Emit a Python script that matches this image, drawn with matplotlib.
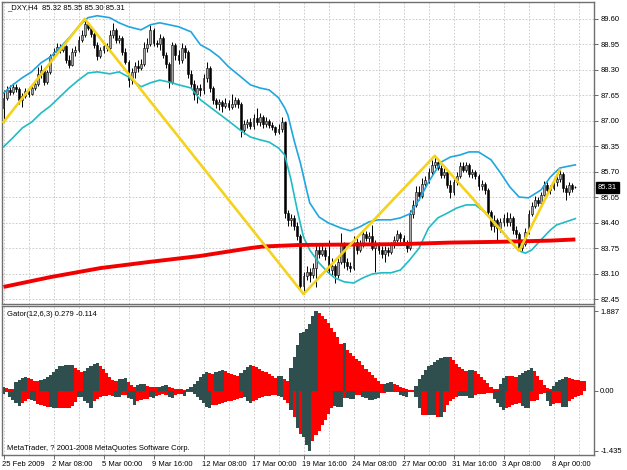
import numpy as np
import matplotlib
matplotlib.use("Agg")
import matplotlib.pyplot as plt
import matplotlib.transforms as mtransforms

plt.rcParams['font.family'] = ['Liberation Sans', 'DejaVu Sans']
plt.rcParams['font.size'] = 5.5

# _DXY H4 candles, bar 0 = 25 Feb 2009 16:00
opens = [
    87.33, 87.59, 87.79, 87.74, 87.87, 87.82, 87.54, 87.64, 87.76, 87.69,
    87.84, 87.94, 88.20, 88.30, 87.99, 88.25, 88.66, 88.76, 88.89, 88.81,
    88.91, 88.55, 88.43, 88.76, 88.81, 89.06, 89.19, 89.47, 89.37, 89.22,
    88.94, 88.66, 88.81, 88.91, 88.86, 89.19, 89.32, 89.06, 89.12, 88.76,
    88.50, 88.04, 88.25, 88.40, 88.35, 88.45, 88.86, 88.96, 89.32, 88.99,
    88.96, 89.12, 88.68, 88.45, 87.99, 88.94, 88.68, 88.55, 88.86, 88.76,
    88.20, 87.94, 87.69, 87.84, 87.79, 88.10, 88.35, 87.84, 87.54, 87.43,
    87.48, 87.38, 87.46, 87.36, 87.43, 87.54, 87.43, 86.77, 86.92, 86.97,
    86.87, 87.08, 86.97, 87.10, 86.92, 87.00, 86.90, 86.85, 86.72, 86.80,
    86.97, 84.65, 84.48, 84.53, 84.32, 84.07, 82.79, 83.05, 83.15, 83.07,
    83.25, 83.71, 83.61, 83.71, 83.56, 83.20, 83.30, 83.07, 83.41, 83.86,
    83.41, 83.30, 83.25, 83.92, 83.71, 83.84, 84.12, 84.02, 84.07, 83.76,
    83.86, 83.71, 83.61, 83.71, 83.66, 83.84, 83.97, 84.12, 84.02, 83.92,
    83.76, 84.63, 84.86, 85.19, 85.09, 85.39, 85.50, 85.70, 85.88, 85.95,
    85.80, 85.62, 85.70, 85.37, 85.19, 85.44, 85.60, 85.85, 85.75, 85.88,
    85.65, 85.70, 85.60, 85.34, 85.39, 85.24, 84.68, 84.32, 84.48, 84.27,
    84.43, 84.53, 84.43, 84.53, 84.22, 84.12, 83.76, 83.86, 84.17, 84.63,
    84.83, 84.99, 84.91, 85.11, 85.37, 85.24, 85.29, 85.44, 85.52, 85.65,
    85.29, 85.19, 85.37, 85.32,
]
highs = [
    87.79, 87.89, 87.92, 87.97, 87.94, 87.87, 87.71, 87.84, 87.84, 87.92,
    88.02, 88.38, 88.43, 88.35, 88.30, 88.71, 88.86, 88.99, 88.96, 88.96,
    88.94, 88.68, 88.86, 88.91, 89.17, 89.32, 89.60, 89.52, 89.40, 89.27,
    89.01, 88.89, 88.96, 88.99, 89.32, 89.50, 89.37, 89.19, 89.17, 88.86,
    88.55, 88.35, 88.50, 88.55, 88.58, 89.01, 89.12, 89.45, 89.37, 89.06,
    89.22, 89.17, 88.76, 88.50, 89.01, 88.99, 88.81, 88.99, 88.94, 88.81,
    88.30, 88.04, 87.92, 87.94, 88.20, 88.50, 88.40, 87.89, 87.59, 87.56,
    87.54, 87.59, 87.54, 87.69, 87.61, 87.59, 87.48, 87.03, 87.05, 87.08,
    87.18, 87.33, 87.20, 87.15, 87.10, 87.05, 86.97, 86.87, 86.92, 87.10,
    87.00, 84.73, 84.63, 84.60, 84.43, 84.12, 83.15, 83.30, 83.25, 83.38,
    83.84, 83.81, 83.84, 83.79, 83.97, 83.51, 83.35, 83.51, 84.15, 83.92,
    83.51, 83.41, 84.07, 84.02, 83.97, 84.22, 84.20, 84.17, 84.35, 83.97,
    83.92, 83.81, 83.81, 83.79, 83.92, 84.07, 84.22, 84.17, 84.09, 83.97,
    84.73, 84.99, 85.34, 85.34, 85.55, 85.60, 85.80, 86.01, 86.11, 86.01,
    85.88, 85.80, 85.75, 85.50, 85.55, 85.70, 85.95, 85.95, 85.95, 85.93,
    85.78, 85.75, 85.65, 85.50, 85.44, 85.29, 84.73, 84.60, 84.53, 84.53,
    84.63, 84.68, 84.65, 84.58, 84.32, 84.17, 83.97, 84.27, 84.73, 84.93,
    85.09, 85.06, 85.19, 85.47, 85.44, 85.37, 85.55, 85.62, 85.75, 85.70,
    85.37, 85.44, 85.42, 85.35,
]
lows = [
    86.97, 87.54, 87.66, 87.69, 87.74, 87.43, 87.36, 87.59, 87.61, 87.66,
    87.79, 87.89, 88.10, 87.92, 87.94, 88.20, 88.61, 88.71, 88.73, 88.76,
    88.48, 88.35, 88.40, 88.66, 88.76, 89.01, 89.14, 89.32, 89.14, 88.86,
    88.55, 88.61, 88.73, 88.78, 88.81, 89.12, 88.99, 88.99, 88.68, 88.45,
    87.87, 87.94, 88.10, 88.25, 88.30, 88.40, 88.76, 88.91, 88.91, 88.89,
    88.81, 88.61, 88.35, 87.84, 87.94, 88.55, 88.45, 88.48, 88.61, 88.10,
    87.84, 87.54, 87.46, 87.64, 87.69, 87.99, 87.74, 87.43, 87.33, 87.28,
    87.23, 87.33, 87.28, 87.31, 87.36, 87.33, 86.59, 86.67, 86.82, 86.80,
    86.80, 86.90, 86.87, 86.82, 86.85, 86.82, 86.77, 86.64, 86.67, 86.72,
    84.53, 84.32, 84.32, 84.22, 83.97, 82.69, 82.59, 82.95, 82.90, 83.00,
    82.77, 83.51, 83.56, 83.46, 83.10, 83.07, 82.87, 83.00, 83.35, 83.25,
    83.20, 83.15, 83.20, 83.61, 83.66, 83.79, 83.94, 83.92, 83.71, 83.15,
    83.61, 83.51, 83.41, 83.56, 83.61, 83.76, 83.92, 83.92, 83.84, 83.66,
    83.71, 84.53, 84.81, 84.99, 85.04, 85.34, 85.42, 85.62, 85.80, 85.75,
    85.55, 85.55, 85.29, 85.04, 85.11, 85.37, 85.55, 85.70, 85.70, 85.57,
    85.55, 85.52, 85.24, 85.24, 85.14, 84.58, 84.22, 84.17, 83.97, 84.17,
    84.32, 84.32, 84.32, 84.12, 84.02, 83.69, 83.69, 83.81, 84.12, 84.58,
    84.78, 84.83, 84.83, 85.09, 85.17, 85.14, 85.24, 85.34, 85.44, 85.19,
    84.99, 85.11, 85.19, 85.30,
]
closes = [
    87.59, 87.79, 87.74, 87.87, 87.82, 87.54, 87.64, 87.76, 87.69, 87.84,
    87.94, 88.20, 88.30, 87.99, 88.25, 88.66, 88.76, 88.89, 88.81, 88.91,
    88.55, 88.43, 88.76, 88.81, 89.06, 89.19, 89.47, 89.37, 89.22, 88.94,
    88.66, 88.81, 88.91, 88.86, 89.19, 89.32, 89.06, 89.12, 88.76, 88.50,
    88.04, 88.25, 88.40, 88.35, 88.45, 88.86, 88.96, 89.32, 88.99, 88.96,
    89.12, 88.68, 88.45, 87.99, 88.94, 88.68, 88.55, 88.86, 88.76, 88.20,
    87.94, 87.69, 87.84, 87.79, 88.10, 88.35, 87.84, 87.54, 87.43, 87.48,
    87.38, 87.46, 87.36, 87.43, 87.54, 87.43, 86.77, 86.92, 86.97, 86.87,
    87.08, 86.97, 87.10, 86.92, 87.00, 86.90, 86.85, 86.72, 86.80, 86.97,
    84.65, 84.48, 84.53, 84.32, 84.07, 82.79, 83.05, 83.15, 83.07, 83.25,
    83.71, 83.61, 83.71, 83.56, 83.20, 83.30, 83.07, 83.41, 83.86, 83.41,
    83.30, 83.25, 83.92, 83.71, 83.84, 84.12, 84.02, 84.07, 83.76, 83.86,
    83.71, 83.61, 83.71, 83.66, 83.84, 83.97, 84.12, 84.02, 83.92, 83.76,
    84.63, 84.86, 85.19, 85.09, 85.39, 85.50, 85.70, 85.88, 85.95, 85.80,
    85.62, 85.70, 85.37, 85.19, 85.44, 85.60, 85.85, 85.75, 85.88, 85.65,
    85.70, 85.60, 85.34, 85.39, 85.24, 84.68, 84.32, 84.48, 84.27, 84.43,
    84.53, 84.43, 84.53, 84.22, 84.12, 83.76, 83.86, 84.17, 84.63, 84.83,
    84.99, 84.91, 85.11, 85.37, 85.24, 85.29, 85.44, 85.52, 85.65, 85.29,
    85.19, 85.37, 85.27, 85.31,
]

# upper / lower bands (bar index, price)
upper_idx = [0, 3, 6, 9, 12, 15, 18, 21, 24, 27, 30, 34, 37, 40, 44, 47, 50, 53, 56, 60,
             63, 66, 69, 72, 76, 79, 82, 85, 88, 90, 91, 93, 95, 97, 98, 101, 104, 108, 111, 114,
             117, 120, 124, 127, 130, 133, 136, 140, 143, 146, 149, 152, 156, 159, 162, 165, 168,
             172, 175, 178, 181, 183]
upper_band = [87.71, 87.92, 88.10, 88.25, 88.48, 88.63, 88.86, 89.12, 89.40, 89.63, 89.68, 89.63,
              89.50, 89.40, 89.32, 89.45, 89.50, 89.45, 89.40, 89.27, 88.94, 88.81, 88.63, 88.38,
              88.12, 87.92, 87.84, 87.79, 87.59, 87.33, 87.15, 86.50, 85.93, 85.24, 84.91, 84.55,
              84.40, 84.27, 84.20, 84.30, 84.43, 84.48, 84.48, 84.53, 84.63, 84.99, 85.44, 85.95,
              86.08, 86.13, 86.21, 86.21, 86.01, 85.68, 85.32, 85.06, 85.04, 85.24, 85.57, 85.80,
              85.85, 85.88]
lower_idx = [0, 3, 6, 9, 12, 15, 18, 21, 24, 27, 30, 34, 37, 40, 44, 47, 50, 53, 56, 60,
             63, 66, 69, 72, 76, 79, 82, 85, 88, 90, 92, 94, 96, 98, 101, 104, 106, 109, 112, 115,
             118, 121, 124, 127, 130, 133, 136, 139, 142, 145, 148, 151, 154, 157, 160, 163, 165,
             167, 169, 172, 175, 177, 180, 183]
lower_band = [86.34, 86.57, 86.82, 86.97, 87.20, 87.38, 87.61, 87.84, 88.04, 88.22, 88.25, 88.20,
              88.25, 88.12, 87.87, 87.97, 88.04, 87.99, 87.92, 87.84, 87.54, 87.36, 87.18, 87.00,
              86.75, 86.59, 86.52, 86.46, 86.31, 86.13, 85.50, 84.73, 84.04, 83.71, 83.38, 83.13,
              83.00, 82.90, 82.87, 83.00, 83.10, 83.13, 83.13, 83.20, 83.46, 83.76, 84.27, 84.53,
              84.65, 84.78, 84.86, 84.86, 84.68, 84.43, 84.15, 83.86, 83.69, 83.63, 83.71, 83.97,
              84.22, 84.35, 84.43, 84.51]

# slow moving average
ma_idx = [0, 15, 31, 47, 63, 79, 83, 95, 111, 127, 143, 159, 175, 183]
ma_vals = [82.77, 83.02, 83.25, 83.41, 83.56, 83.76, 83.80, 83.84, 83.85, 83.86, 83.90, 83.92,
           83.95, 83.98]

# zigzag turning points
zz_idx = [0, 26, 96, 138, 165, 178]
zz_vals = [86.97, 89.60, 82.59, 86.11, 83.69, 85.75]

# Gator oscillator, d = dark bar, r = red bar
gator_up = [
    0.08, 0.06, 0.05, 0.04, 0.20, 0.26, 0.30, 0.33, 0.30, 0.27,
    0.24, 0.22, 0.25, 0.29, 0.33, 0.38, 0.45, 0.52, 0.58, 0.60,
    0.61, 0.61, 0.62, 0.55, 0.50, 0.45, 0.48, 0.55, 0.60, 0.64,
    0.67, 0.60, 0.52, 0.42, 0.33, 0.25, 0.23, 0.27, 0.29, 0.30,
    0.20, 0.14, 0.10, 0.13, 0.15, 0.16, 0.12, 0.10, 0.09, 0.08,
    0.10, 0.12, 0.13, 0.08, 0.06, 0.05, 0.04, 0.03, 0.02, 0.03,
    0.08, 0.15, 0.22, 0.32, 0.40, 0.44, 0.42, 0.40, 0.45, 0.48,
    0.50, 0.47, 0.43, 0.40, 0.38, 0.36, 0.42, 0.50, 0.57, 0.62,
    0.60, 0.56, 0.52, 0.48, 0.44, 0.40, 0.36, 0.30, 0.34, 0.36,
    0.28, 0.24, 0.55, 0.80, 1.10, 1.37, 1.40, 1.48, 1.60, 1.78,
    1.887, 1.85, 1.78, 1.70, 1.62, 1.50, 1.40, 1.28, 1.12, 1.14,
    0.97, 0.90, 0.82, 0.75, 0.70, 0.62, 0.52, 0.45, 0.37, 0.30,
    0.22, 0.15, 0.16, 0.19, 0.20, 0.17, 0.14, 0.10, 0.07, 0.03,
    0.02, 0.01, 0.12, 0.28, 0.38, 0.50, 0.58, 0.62, 0.68, 0.72,
    0.77, 0.80, 0.81, 0.80, 0.72, 0.64, 0.57, 0.52, 0.47, 0.49,
    0.50, 0.46, 0.40, 0.33, 0.26, 0.18, 0.10, 0.05, 0.04, 0.15,
    0.30, 0.35, 0.34, 0.34, 0.33, 0.37, 0.42, 0.47, 0.50, 0.53,
    0.46, 0.35, 0.25, 0.14, 0.06, 0.03, 0.12, 0.20, 0.25, 0.28,
    0.33, 0.30, 0.28, 0.26, 0.25, 0.24, 0.22,
]
gator_up_col = ("d" "rrr" "dddd" "rrrr" "ddddddddddd" "rrr" "ddddd" "rrrrrr" "ddd" "rrr" "ddd"
                "rrrr" "ddd" "rrrrrr" "ddddddd" "rr" "ddd" "rrrrr" "dddd" "rrrrrrrr" "dd" "rr"
                "ddddddddd" "rrrrrrrr" "d" "rrrrrrrrrrrr" "ddd" "rrrrrrr" "ddddddddddd" "rrrrrr"
                "dd" "rrrrrrrr" "ddd" "rrr" "ddddd" "rrrrrr" "ddddd" "rrrrrr")
gator_dn = [
    0.07, 0.04, 0.15, 0.22, 0.30, 0.36, 0.30, 0.24, 0.20, 0.22,
    0.25, 0.32, 0.35, 0.37, 0.38, 0.38, 0.40, 0.42, 0.42, 0.42,
    0.42, 0.40, 0.36, 0.28, 0.16, 0.14, 0.24, 0.30, 0.42, 0.24,
    0.20, 0.15, 0.13, 0.12, 0.11, 0.12, 0.14, 0.14, 0.10, 0.10,
    0.18, 0.20, 0.34, 0.24, 0.22, 0.20, 0.19, 0.16, 0.18, 0.12,
    0.10, 0.08, 0.10, 0.16, 0.18, 0.10, 0.09, 0.08, 0.12, 0.03,
    0.04, 0.08, 0.14, 0.22, 0.30, 0.38, 0.42, 0.35, 0.33, 0.32,
    0.30, 0.27, 0.25, 0.24, 0.22, 0.20, 0.18, 0.15, 0.24, 0.30,
    0.24, 0.22, 0.18, 0.15, 0.12, 0.12, 0.10, 0.10, 0.13, 0.15,
    0.22, 0.30, 0.45, 0.62, 0.88, 1.02, 1.10, 1.30, 1.435, 1.20,
    1.05, 0.95, 0.82, 0.70, 0.55, 0.40, 0.36, 0.38, 0.38, 0.18,
    0.18, 0.20, 0.19, 0.10, 0.10, 0.15, 0.18, 0.22, 0.22, 0.20,
    0.18, 0.06, 0.05, 0.03, 0.03, 0.02, 0.03, 0.10, 0.12, 0.14,
    0.03, 0.03, 0.15, 0.40, 0.58, 0.58, 0.58, 0.58, 0.58, 0.62,
    0.62, 0.50, 0.35, 0.25, 0.20, 0.15, 0.12, 0.12, 0.12, 0.18,
    0.18, 0.10, 0.09, 0.08, 0.07, 0.06, 0.06, 0.20, 0.30, 0.38,
    0.46, 0.40, 0.38, 0.35, 0.32, 0.30, 0.36, 0.40, 0.42, 0.25,
    0.24, 0.22, 0.08, 0.06, 0.25, 0.36, 0.32, 0.30, 0.30, 0.38,
    0.38, 0.24, 0.20, 0.16, 0.13, 0.10,
]
gator_dn_col = ("d" "r" "dddd" "rrr" "dd" "rrrr" "ddd" "rrrrrr" "ddddd" "rrrrrrr" "dd" "rr" "ddd"
                "rrrr" "dd" "rrrr" "dd" "rrr" "d" "rr" "dddddd" "rrrrrrrrrr" "ddd" "rrrrrrrr" "dd"
                "rr" "d" "r" "d" "r" "ddd" "rrrrrrr" "ddd" "r" "ddd" "rr" "dddddd" "rrrrrr" "ddd"
                "rr" "dd" "rr" "ddd" "r" "d" "rrrrr" "ddddd" "rrrrrr" "dddd" "rrrrr" "ddd" "rrrrr"
                "dd" "rrr" "dd" "rrrrr")

price_ticks = [82.45, 83.10, 83.75, 84.40, 85.05, 85.70, 86.35, 87.00, 87.65, 88.30, 88.95, 89.60]
gator_ticks = [-1.435, 0.0, 1.887]
gator_tick_labels = ['-1.435', '0.00', '1.887']
time_labels = ['25 Feb 2009', '2 Mar 08:00', '5 Mar 00:00', '9 Mar 16:00', '12 Mar 08:00',
               '17 Mar 00:00', '19 Mar 16:00', '24 Mar 08:00', '27 Mar 00:00', '31 Mar 16:00',
               '3 Apr 08:00', '8 Apr 00:00']
last_price = 85.31

GRID = '#c4c4c4'
FRAME = '#707070'
DARK = '#2f4f4f'
RED = '#ff0000'

W, H = 627.0, 470.0
fig = plt.figure(figsize=(W / 100, H / 100), dpi=100)
ax = fig.add_axes([2 / W, 1 - 304 / H, 592 / W, 302 / H])
ax2 = fig.add_axes([2 / W, 1 - 455 / H, 592 / W, 149 / H])

xmin, xmax = -0.48, 188.96
grid_x = np.arange(0.16, xmax, 8)

# ---- price panel
ax.set_xlim(xmin, xmax)
ax.set_ylim(82.335, 90.03)
for g in grid_x:
    ax.axvline(g, color=GRID, lw=0.6, ls=(0, (2, 2)), zorder=0)
for p in price_ticks:
    ax.axhline(p, color=GRID, lw=0.6, ls=(0, (2, 2)), zorder=0)

o, h, l, c = map(np.array, (opens, highs, lows, closes))
idx = np.arange(len(c))
bull = c >= o
ax.vlines(idx, l, h, color='black', lw=0.7, zorder=2)
lo = np.minimum(o, c)
ht = np.maximum(np.abs(c - o), 0.015)
ax.bar(idx[bull], ht[bull], bottom=lo[bull], width=0.62, color='#a8a8a8',
       edgecolor='black', lw=0.4, zorder=3)
ax.bar(idx[~bull], ht[~bull], bottom=lo[~bull], width=0.62, color='black',
       edgecolor='black', lw=0.4, zorder=3)

ax.plot(upper_idx, upper_band, color='#1fa6e0', lw=1.2, zorder=4)
ax.plot(lower_idx, lower_band, color='#20bcc4', lw=1.2, zorder=4)
ax.plot(ma_idx, ma_vals, color='#f20000', lw=2.8, zorder=5, solid_capstyle='butt')
ax.plot(zz_idx, zz_vals, color='#f5d21c', lw=1.9, zorder=6)

ax.set_xticks([])
ax.yaxis.tick_right()
ax.set_yticks(price_ticks)
ax.set_yticklabels([f'{p:.2f}' for p in price_ticks])
ax.tick_params(axis='y', length=3, width=0.6, pad=1.5, labelsize=5.5, color='#505050')

tr = mtransforms.blended_transform_factory(ax.transAxes, ax.transData)
ax.text(1.006, last_price, f'{last_price:.2f}', transform=tr, color='white', fontsize=5.5,
        va='center', ha='left',
        bbox=dict(boxstyle='square,pad=0.25', fc='black', ec='black'))
ax.text(5 / 592, (304 - 8) / 302, '_DXY,H4  85.32 85.35 85.30 85.31', transform=ax.transAxes,
        fontsize=5.5, va='center', ha='left')

# ---- gator panel
ax2.set_xlim(xmin, xmax)
ax2.set_ylim(-1.531, 2.017)
for g in grid_x:
    ax2.axvline(g, color=GRID, lw=0.6, ls=(0, (2, 2)), zorder=0)
cmap = {'d': DARK, 'r': RED}
ax2.bar(np.arange(len(gator_up)), gator_up, width=1.0, lw=0,
        color=[cmap[k] for k in gator_up_col], zorder=2)
ax2.bar(np.arange(len(gator_dn)), [-v for v in gator_dn], width=1.0, lw=0,
        color=[cmap[k] for k in gator_dn_col], zorder=2)

ax2.yaxis.tick_right()
ax2.set_yticks(gator_ticks)
ax2.set_yticklabels(gator_tick_labels)
ax2.tick_params(axis='y', length=3, width=0.6, pad=1.5, labelsize=5.5, color='#505050')
ax2.set_xticks(np.arange(len(time_labels)) * 16 + 0.16)
ax2.set_xticklabels(time_labels)
ax2.tick_params(axis='x', length=3, width=0.6, pad=1.5, labelsize=5.5, color='#505050')
shift = mtransforms.ScaledTranslation(-2 / 100, 0, fig.dpi_scale_trans)
for lab in ax2.get_xticklabels():
    lab.set_horizontalalignment('left')
    lab.set_transform(lab.get_transform() + shift)

ax2.text(5 / 592, (455 - 314) / 149, 'Gator(12,6,3) 0.279 -0.114', transform=ax2.transAxes,
         fontsize=5.5, va='center', ha='left')
ax2.text(5 / 592, (455 - 449) / 149, 'MetaTrader, ? 2001-2008 MetaQuotes Software Corp.',
         transform=ax2.transAxes, fontsize=5.5, va='center', ha='left')

for a in (ax, ax2):
    for s in a.spines.values():
        s.set_color(FRAME)
        s.set_linewidth(1.0)

fig.savefig('out.png', dpi=100, facecolor='white')
